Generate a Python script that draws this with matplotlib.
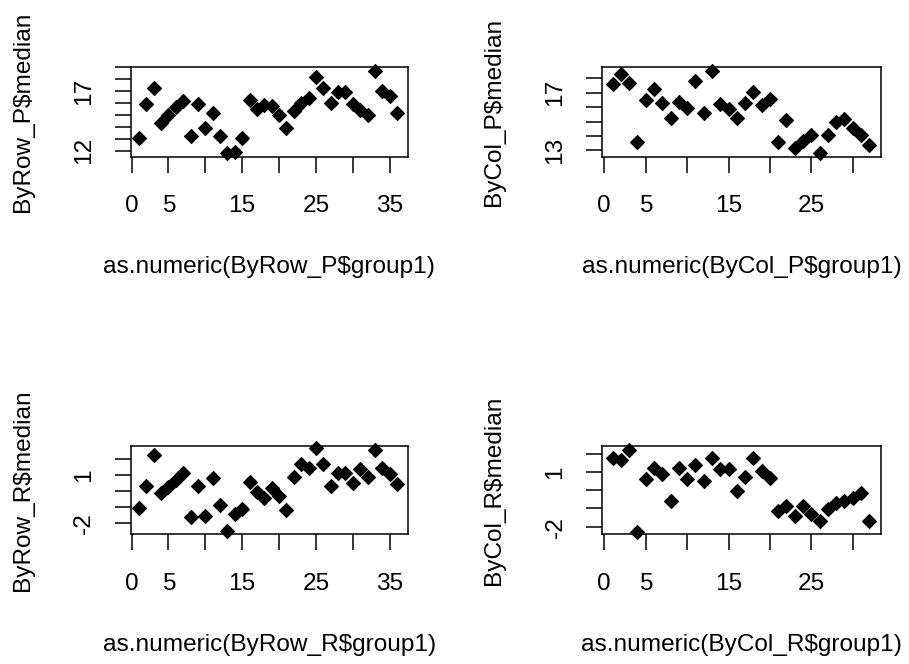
import matplotlib
matplotlib.use('Agg')
import matplotlib.pyplot as plt
from matplotlib.transforms import offset_copy

plt.rcParams['font.family'] = ['Liberation Sans', 'DejaVu Sans']

# ---- data ----
row_x = list(range(1, 37))
col_x = list(range(1, 33))

byrow_p = [13.05, 15.89, 17.23, 14.30, 15.01, 15.66, 16.15, 13.19, 15.92, 13.88,
           15.18, 13.19, 11.83, 11.91, 13.05, 16.23, 15.52, 15.81, 15.75, 15.01,
           13.88, 15.30, 16.01, 16.43, 18.22, 17.23, 16.03, 16.89, 16.94, 15.95,
           15.38, 15.01, 18.73, 17.00, 16.60, 15.18]

bycol_p = [17.58, 18.28, 17.70, 13.58, 16.49, 17.30, 16.30, 15.26, 16.37, 15.98,
           17.84, 15.63, 18.53, 16.19, 15.91, 15.26, 16.30, 17.07, 16.14, 16.60,
           13.58, 15.09, 13.16, 13.63, 14.05, 12.81, 14.05, 14.98, 15.16, 14.58,
           14.05, 13.35]

byrow_r = [-1.08, 0.30, 2.27, -0.12, 0.26, 0.68, 1.11, -1.65, 0.30, -1.58,
           0.83, -0.91, -2.56, -1.44, -1.16, 0.58, -0.06, -0.48, 0.15, -0.31,
           -1.22, 0.89, 1.68, 1.42, 2.69, 1.68, 0.30, 1.15, 1.15, 0.51,
           1.36, 0.89, 2.59, 1.42, 1.04, 0.43]

bycol_r = [1.79, 1.66, 2.21, -2.29, 0.60, 1.24, 0.91, -0.59, 1.24, 0.60,
           1.37, 0.51, 1.79, 1.15, 1.15, -0.04, 0.73, 1.79, 1.05, 0.69,
           -1.14, -0.86, -1.41, -0.86, -1.32, -1.69, -1.01, -0.68, -0.59, -0.41,
           -0.13, -1.69]

row_xticks = [0, 5, 10, 15, 20, 25, 30, 35]
row_xticklabels = ['0', '5', '', '15', '', '25', '', '35']
col_xticks = [0, 5, 10, 15, 20, 25, 30]
col_xticklabels = ['0', '5', '', '15', '', '25', '']

p_row_yticks = [12, 13, 14, 15, 16, 17, 18, 19]
p_row_yticklabels = ['12', '', '', '', '', '17', '', '']
p_col_yticks = [13, 14, 15, 16, 17, 18]
p_col_yticklabels = ['13', '', '', '', '17', '']
r_yticks = [-2, -1, 0, 1, 2]
r_yticklabels = ['-2', '', '', '1', '']

panels = [
    dict(x=row_x, y=byrow_p, pos=[0.1438, 0.7643, 0.3047, 0.1343],
         xlim=(-0.12, 37.45), ylim=(11.5, 19.0),
         xt=row_xticks, xtl=row_xticklabels, yt=p_row_yticks, ytl=p_row_yticklabels,
         xlabel='as.numeric(ByRow_P$group1)', ylabel='ByRow_P$median'),
    dict(x=col_x, y=bycol_p, pos=[0.6626, 0.7643, 0.3063, 0.1343],
         xlim=(-0.24, 33.38), ylim=(12.58, 18.77),
         xt=col_xticks, xtl=col_xticklabels, yt=p_col_yticks, ytl=p_col_yticklabels,
         xlabel='as.numeric(ByCol_P$group1)', ylabel='ByCol_P$median'),
    dict(x=row_x, y=byrow_r, pos=[0.1438, 0.1953, 0.3047, 0.1333],
         xlim=(-0.12, 37.45), ylim=(-2.74, 2.84),
         xt=row_xticks, xtl=row_xticklabels, yt=r_yticks, ytl=r_yticklabels,
         xlabel='as.numeric(ByRow_R$group1)', ylabel='ByRow_R$median'),
    dict(x=col_x, y=bycol_r, pos=[0.6626, 0.1953, 0.3063, 0.1333],
         xlim=(-0.24, 33.38), ylim=(-2.42, 2.44),
         xt=col_xticks, xtl=col_xticklabels, yt=r_yticks, ytl=r_yticklabels,
         xlabel='as.numeric(ByCol_R$group1)', ylabel='ByCol_R$median'),
]

FS = 17.6
fig = plt.figure(figsize=(9.09, 6.64), dpi=100)

for p in panels:
    ax = fig.add_axes(p['pos'])
    ax.plot(p['x'], p['y'], linestyle='none', marker='D', markersize=7.0,
            color='black', markeredgewidth=0.8, clip_on=False)
    ax.set_xlim(*p['xlim'])
    ax.set_ylim(*p['ylim'])
    for s in ax.spines.values():
        s.set_linewidth(1.1)
        s.set_color('black')
    ax.set_xticks(p['xt'])
    ax.set_xticklabels(p['xtl'])
    ax.set_yticks(p['yt'])
    ax.set_yticklabels(p['ytl'])
    ax.tick_params(axis='both', direction='out', length=11.7, width=1.1,
                   color='black', labelsize=FS, labelcolor='black')
    ax.tick_params(axis='x', pad=16)
    ax.tick_params(axis='y', pad=14)
    for lab in ax.get_yticklabels():
        lab.set_rotation(90)
        lab.set_va('center')
        lab.set_ha('right')
    tx = offset_copy(ax.transAxes, fig=fig, x=0, y=-110.5, units='dots')
    ax.text(0.5, 0.0, p['xlabel'], transform=tx, ha='center', va='center',
            fontsize=FS, color='black')
    ty = offset_copy(ax.transAxes, fig=fig, x=-108, y=0, units='dots')
    ax.text(0.0, 0.5, p['ylabel'], transform=ty, ha='center', va='center',
            rotation=90, fontsize=FS, color='black')

fig.savefig('out.png', dpi=100, facecolor='white')
